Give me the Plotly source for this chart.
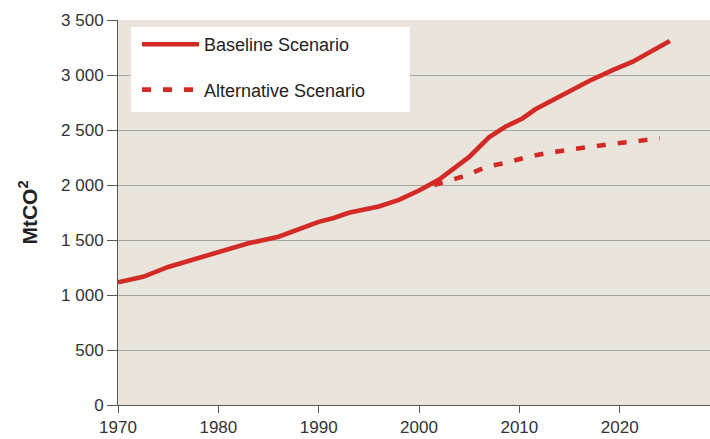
import plotly.graph_objects as go

# ---- data ----
base_years = [1970, 1972.5, 1975, 1979, 1983, 1986, 1990, 1991.5, 1993, 1996, 1998,
              2000, 2002, 2005, 2007, 2008.6, 2010.3, 2011.6, 2014, 2017, 2019.3, 2021.3, 2025]
base_vals = [1115, 1165, 1255, 1360, 1470, 1530, 1665, 1700, 1748, 1805, 1865,
             1950, 2050, 2255, 2435, 2530, 2605, 2688, 2803, 2948, 3045, 3121, 3310]

alt_years = [2001.5, 2004.5, 2006.7, 2008.6, 2010.6, 2012.6, 2014.8, 2016.9, 2019.1, 2021.3, 2024]
alt_vals = [2000, 2080, 2165, 2200, 2250, 2288, 2318, 2348, 2373, 2394, 2425]

y_tickvals = [0, 500, 1000, 1500, 2000, 2500, 3000, 3500]
y_ticktext = ["0", "500", "1 000", "1 500", "2 000", "2 500", "3 000", "3 500"]
x_tickvals = [1970, 1980, 1990, 2000, 2010, 2020]
x_ticktext = ["1970", "1980", "1990", "2000", "2010", "2020"]

series_names = ["Baseline Scenario", "Alternative Scenario"]

# ---- layout geometry (pixels) ----
W, H = 710, 439
ML, MR, MT, MB = 118, 0, 20, 34
PW, PH = W - ML - MR, H - MT - MB

def px_x(x):
    return (x - ML) / PW

def px_y(y):
    return (H - MB - y) / PH

RED = "#d42a26"
FONT = "Liberation Sans, Arial, sans-serif"

fig = go.Figure()
fig.add_trace(go.Scatter(x=base_years, y=base_vals, mode="lines", name=series_names[0],
                         legendgroup="a",
                         line=dict(color=RED, width=4.6)))
fig.add_trace(go.Scatter(x=alt_years, y=alt_vals, mode="lines", name=series_names[1],
                         legendgroup="b",
                         line=dict(color=RED, width=4.6, dash="9px,12px")))

fig.update_layout(
    width=W, height=H,
    margin=dict(l=ML, r=MR, t=MT, b=MB, pad=0),
    paper_bgcolor="white",
    plot_bgcolor="#e9e5dc",
    font=dict(family=FONT, size=17, color="#333333"),
    showlegend=True,
    legend=dict(
        x=px_x(137), y=px_y(26), xanchor="left", yanchor="top",
        bgcolor="rgba(0,0,0,0)", borderwidth=0,
        font=dict(family=FONT, size=18, color="#222222"),
        itemwidth=57, tracegroupgap=19, traceorder="grouped",
    ),
    xaxis=dict(
        range=[1970, 2029], tickvals=x_tickvals, ticktext=x_ticktext,
        showgrid=False, zeroline=False,
        showline=True, linecolor="#555555", linewidth=1,
        ticks="outside", ticklen=7, tickcolor="#555555",
        tickfont=dict(size=17, color="#333333"),
    ),
    yaxis=dict(
        range=[0, 3500], tickvals=y_tickvals, ticktext=y_ticktext,
        showgrid=True, gridcolor="#a6a49f", gridwidth=1,
        zeroline=False,
        showline=True, linecolor="#555555", linewidth=1,
        ticks="outside", ticklen=10, tickcolor="#555555",
        tickfont=dict(size=17, color="#333333"),
        title=dict(text="<b>MtCO<sup>2</sup></b>", font=dict(size=21, color="#222222"), standoff=17),
    ),
    shapes=[dict(type="rect", xref="paper", yref="paper",
                 x0=px_x(131), x1=px_x(410), y0=px_y(112), y1=px_y(27),
                 fillcolor="white", line=dict(width=0), layer="above")],
)

fig.write_html("out.html", config={"displayModeBar": False},
               post_script="document.body.style.margin='0';document.body.style.overflow='hidden';")
